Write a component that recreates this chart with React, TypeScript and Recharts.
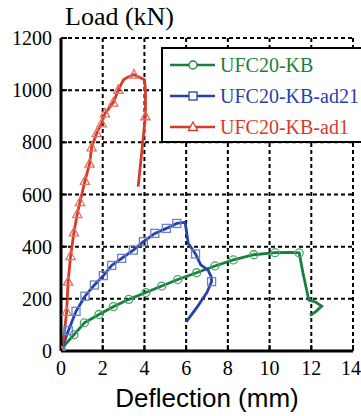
import React from 'react';
import { LineChart, Line, XAxis, YAxis, CartesianGrid, Legend } from 'recharts';

const xTicks = [0, 2, 4, 6, 8, 10, 12, 14];
const yTicks = [0, 200, 400, 600, 800, 1000, 1200];

const seriesNames = ['UFC20-KB', 'UFC20-KB-ad21', 'UFC20-KB-ad1'];

// UFC20-KB (green)
const kbX = [0, 0.25, 0.62, 1.12, 1.82, 2.51, 3.25, 4.07, 4.83, 5.6, 6.5, 7.38, 8.26, 9.25, 10.26, 11.0, 11.42, 11.6, 11.88, 12.2, 12.5, 12.2, 11.94];
const kbY = [0, 30, 62, 108, 140, 170, 198, 224, 249, 274, 300, 326, 349, 369, 377, 378, 376, 300, 195, 188, 172, 150, 136];
const kbM = [1, 0, 1, 1, 1, 1, 1, 1, 1, 1, 1, 1, 1, 1, 1, 0, 1, 0, 0, 0, 0, 0, 0];

// UFC20-KB-ad21 (blue)
const ad21X = [0, 0.35, 0.72, 1.15, 1.6, 2.03, 2.43, 2.91, 3.47, 3.95, 4.5, 5.05, 5.55, 5.95, 6.1, 6.45, 6.7, 7.05, 7.2, 7.22, 7.0, 6.5, 6.0];
const ad21Y = [0, 78, 152, 210, 253, 289, 328, 355, 387, 419, 451, 470, 489, 493, 413, 372, 330, 310, 285, 266, 225, 165, 112];
const ad21M = [1, 1, 1, 1, 1, 1, 1, 1, 1, 1, 1, 1, 1, 0, 0, 1, 0, 0, 0, 1, 0, 0, 0];

// UFC20-KB-ad1 (red)
const ad1X = [0, 0.12, 0.27, 0.34, 0.46, 0.62, 0.78, 0.91, 1.15, 1.37, 1.47, 1.71, 1.95, 2.11, 2.5, 2.75, 3.0, 3.2, 3.5, 3.8, 4.0, 4.05, 4.05, 3.98, 3.7];
const ad1Y = [0, 40, 150, 266, 364, 455, 525, 571, 652, 718, 781, 835, 873, 911, 952, 1001, 1040, 1050, 1060, 1048, 1040, 1000, 900, 848, 630];
const ad1M = [1, 0, 1, 1, 1, 1, 1, 1, 1, 1, 1, 1, 1, 1, 1, 1, 0, 0, 1, 0, 0, 0, 1, 0, 0];

const build = (xs: number[], ys: number[], ms: number[]) =>
  xs.map((x, i) => ({ x, y: ys[i], m: ms[i] }));

type Shape = 'circle' | 'square' | 'triangle';

const series = [
  { name: seriesNames[0], color: '#17803d', mark: '#4aa56a', shape: 'circle' as Shape, data: build(kbX, kbY, kbM) },
  { name: seriesNames[1], color: '#2742a6', mark: '#6a82cc', shape: 'square' as Shape, data: build(ad21X, ad21Y, ad21M) },
  { name: seriesNames[2], color: '#d63b2a', mark: '#e4705f', shape: 'triangle' as Shape, data: build(ad1X, ad1Y, ad1M) },
];

const SERIF = '"Liberation Serif", "Times New Roman", serif';
const SANS = '"Liberation Sans", Arial, sans-serif';

function Marker({ shape, cx, cy, color, fill }: { shape: Shape; cx: number; cy: number; color: string; fill: string }) {
  if (shape === 'circle') return <circle cx={cx} cy={cy} r={4} fill={fill} stroke={color} strokeWidth={1.3} />;
  if (shape === 'square') return <rect x={cx - 4} y={cy - 4} width={8} height={8} fill={fill} stroke={color} strokeWidth={1.3} />;
  return (
    <polygon
      points={`${cx},${cy - 5} ${cx - 4.6},${cy + 3.5} ${cx + 4.6},${cy + 3.5}`}
      fill={fill}
      stroke={color}
      strokeWidth={1.3}
    />
  );
}

const LegendBox = () => (
  <div
    style={{
      border: '2px solid #000',
      background: '#fff',
      boxSizing: 'border-box',
      width: '100%',
      height: '100%',
    }}
  >
    {series.map((s) => (
      <div key={s.name} style={{ display: 'flex', alignItems: 'center', height: 31 }}>
        <svg width={57} height={20} style={{ display: 'block' }}>
          <line x1={7} x2={52} y1={10} y2={10} stroke={s.color} strokeWidth={2.5} />
          <Marker shape={s.shape} cx={30} cy={10} color={s.color} fill="#fff" />
        </svg>
        <span style={{ color: s.color, fontFamily: SERIF, fontSize: 20, lineHeight: '20px', whiteSpace: 'nowrap' }}>
          {s.name}
        </span>
      </div>
    ))}
  </div>
);

export default function App() {
  return (
    <div style={{ width: 361, height: 416, overflow: 'hidden', position: 'relative' }}>
      <style>{`body{margin:0;}`}</style>
      <LineChart width={361} height={416} margin={{ top: 38, right: 8, bottom: 0, left: 0 }}>
        <CartesianGrid xAxisId="b" yAxisId="l" stroke="#000" strokeWidth={2} strokeDasharray="4 3" />
        <XAxis
          xAxisId="b"
          dataKey="x"
          type="number"
          domain={[0, 14]}
          ticks={xTicks}
          allowDataOverflow
          height={65}
          axisLine={{ stroke: '#000', strokeWidth: 3 }}
          tickLine={{ stroke: '#000', strokeWidth: 2 }}
          tickSize={-6}
          tickMargin={16}
          tick={{ fill: '#000', fontFamily: SERIF, fontSize: 20 }}
          label={{
            content: (p: any) => {
              const vb = p.viewBox || {};
              return (
                <text x={vb.x + vb.width / 2} y={vb.y + 56} textAnchor="middle" fontFamily={SANS} fontSize={26} fill="#000">
                  Deflection (mm)
                </text>
              );
            },
          }}
        />
        <XAxis
          xAxisId="t"
          orientation="top"
          type="number"
          domain={[0, 14]}
          ticks={xTicks}
          allowDataOverflow
          mirror
          height={0}
          tick={false}
          axisLine={{ stroke: '#000', strokeWidth: 3 }}
          tickLine={{ stroke: '#000', strokeWidth: 2 }}
          tickSize={6}
        />
        <YAxis
          yAxisId="l"
          type="number"
          domain={[0, 1200]}
          ticks={yTicks}
          allowDataOverflow
          width={61}
          axisLine={{ stroke: '#000', strokeWidth: 3 }}
          tickLine={{ stroke: '#000', strokeWidth: 2 }}
          tickSize={-6}
          tickMargin={15}
          tick={{ fill: '#000', fontFamily: SERIF, fontSize: 20 }}
          label={{
            content: (p: any) => {
              const vb = p.viewBox || {};
              return (
                <text x={vb.x + vb.width + 4} y={vb.y - 13} textAnchor="start" fontFamily={SERIF} fontSize={26} fill="#000">
                  Load (kN)
                </text>
              );
            },
          }}
        />
        <YAxis
          yAxisId="r"
          orientation="right"
          type="number"
          domain={[0, 1200]}
          ticks={yTicks}
          allowDataOverflow
          mirror
          width={0}
          tick={false}
          axisLine={{ stroke: '#000', strokeWidth: 3 }}
          tickLine={{ stroke: '#000', strokeWidth: 2 }}
          tickSize={6}
        />
        {series.map((s) => (
          <Line
            key={s.name}
            xAxisId="b"
            yAxisId="l"
            data={s.data}
            dataKey="y"
            name={s.name}
            type="linear"
            stroke={s.color}
            strokeWidth={2.8}
            isAnimationActive={false}
            activeDot={false}
            dot={(p: any) =>
              p.payload && p.payload.m ? (
                <Marker key={`d-${s.name}-${p.index}`} shape={s.shape} cx={p.cx} cy={p.cy} color={s.mark} fill="none" />
              ) : (
                <g key={`d-${s.name}-${p.index}`} />
              )
            }
          />
        ))}
        <Legend
          layout="vertical"
          align="center"
          verticalAlign="middle"
          wrapperStyle={{ left: 161, top: 47, width: 205, height: 96 }}
          content={() => <LegendBox />}
        />
      </LineChart>
    </div>
  );
}
